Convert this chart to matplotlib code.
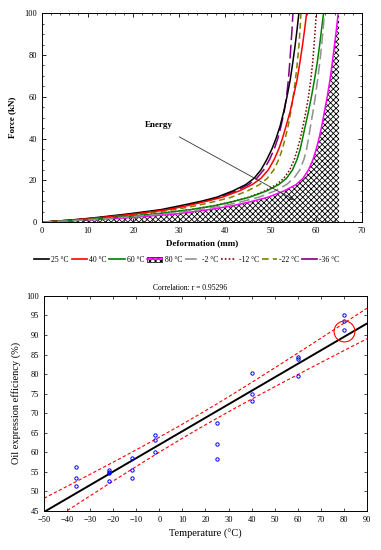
import numpy as np
import matplotlib
matplotlib.use("Agg")
import matplotlib.pyplot as plt
from matplotlib.patches import Patch
from matplotlib.lines import Line2D

plt.rcParams['font.family'] = ['Liberation Serif', 'DejaVu Serif']
plt.rcParams['hatch.linewidth'] = 0.6

# top chart: deformation (mm) read at fixed force levels (kN)
force_levels = [0, 1, 2, 4, 6, 8, 10, 12, 15, 18, 21, 25, 30, 35, 40, 46, 53, 60, 68, 76, 84, 92, 100]
def_25 = [0, 6, 11, 19, 26, 30.5, 34.8, 38.3, 41.8, 44.6, 46.4, 47.9, 49.2, 50.3, 51.2, 52.1,
          52.9, 53.6, 54.3, 54.85, 55.35, 55.8, 56.2]
def_40 = [0, 6.5, 12, 20.5, 27.5, 32, 36, 39.5, 43.2, 46, 47.9, 49.5, 50.8, 51.8, 52.6, 53.4,
          54.3, 55.0, 55.8, 56.4, 56.95, 57.45, 57.9]
def_60 = [0, 8, 14.5, 25, 32.5, 38, 42, 45.5, 49.2, 51.8, 53.5, 54.8, 55.8, 56.5, 57.0, 57.6,
          58.3, 58.95, 59.6, 60.2, 60.7, 61.15, 61.6]
def_80 = [0, 9, 18, 29.5, 36.5, 42, 46, 49.5, 53, 55.6, 57.1, 58.3, 59.3, 60.0, 60.6, 61.2,
          61.8, 62.4, 63.0, 63.5, 63.95, 64.4, 64.8]
def_m2 = [0, 8.5, 16, 27, 34.5, 40, 44, 47.5, 51, 53.5, 55.1, 56.4, 57.3, 57.9, 58.3, 58.75,
          59.3, 59.8, 60.3, 60.75, 61.15, 61.5, 61.8]
def_m12 = [0, 8, 14.5, 25, 32.5, 38, 42, 45.3, 48.8, 51.3, 52.9, 54.2, 55.2, 55.9, 56.5, 57.1,
           57.75, 58.3, 58.8, 59.2, 59.5, 59.78, 60.0]
def_m22 = [0, 7, 13, 22, 29, 34, 38, 41.5, 45, 47.6, 49.3, 50.7, 51.8, 52.6, 53.2, 53.85,
           54.45, 54.95, 55.45, 55.85, 56.2, 56.45, 56.65]
def_m36 = [0, 6.5, 12, 20, 27, 31.5, 35.5, 39, 42.5, 45.2, 47, 48.5, 49.8, 50.8, 51.6, 52.3,
           53.0, 53.5, 53.9, 54.2, 54.45, 54.7, 54.9]
energy_limit = 65

# bottom chart: oil expression efficiency vs temperature
temp = [-36, -36, -36, -22, -22, -22, -22, -12, -12, -12, -2, -2, -2,
        25, 25, 25, 40, 40, 40, 60, 60, 60, 80, 80, 80]
efficiency = [56.2, 53.4, 51.4, 55.6, 55.0, 54.7, 52.7, 58.5, 55.5, 53.4, 64.4, 63.2, 60.2,
              67.5, 62.2, 58.4, 80.2, 75.0, 73.2, 84.3, 83.9, 79.5, 95.1, 93.7, 91.4]
highlight_t = [80]
highlight_eff = [91]

fig = plt.figure(figsize=(3.81, 5.5), dpi=100)

# ---- top chart
ax1 = fig.add_axes([0.110, 0.596, 0.840, 0.380])
curves = [
    (def_m36, '#800080', (0, (9, 3))),
    (def_25, 'black', '-'),
    (def_m22, '#808000', (0, (4, 2.5))),
    (def_40, 'red', '-'),
    (def_m12, '#800000', (0, (1, 1.3))),
    (def_60, 'green', '-'),
    (def_m2, '#909090', (0, (7, 3))),
]
ax1.fill(list(def_80) + [energy_limit, energy_limit], list(force_levels) + [100, 0],
         facecolor='white', edgecolor='black', hatch='xxxxxx', linewidth=0)
ax1.plot(def_80, force_levels, color='magenta', lw=1.1)
for d, c, ls in curves:
    ax1.plot(d, force_levels, color=c, lw=1.1, linestyle=ls)

ax1.annotate('', xy=(55.7, 10), xytext=(29.5, 41.5),
             arrowprops=dict(arrowstyle='-|>', color='#333333', lw=0.6,
                             mutation_scale=6))
ax1.text(25.5, 46.5, 'Energy', fontsize=6.5, ha='center', va='center', fontweight='bold')

ax1.set_xlim(0, 70)
ax1.set_ylim(0, 100)
ax1.set_xticks(range(0, 71, 10))
ax1.set_yticks(range(0, 101, 20))
ax1.set_xticks(range(0, 71, 2), minor=True)
ax1.set_yticks(range(0, 101, 5), minor=True)
ax1.tick_params(which='both', direction='in', top=True, right=True, labelsize=6)
ax1.tick_params(which='major', length=3, width=0.6)
ax1.tick_params(which='minor', length=1.5, width=0.5)
for s in ax1.spines.values():
    s.set_linewidth(0.7)
ax1.set_xlabel('Deformation (mm)', fontsize=6.5, fontweight='bold', labelpad=3)
ax1.set_ylabel('Force (kN)', fontsize=6.5, fontweight='bold', labelpad=6)

handles = [
    Line2D([], [], color='black', lw=1.2),
    Line2D([], [], color='red', lw=1.2),
    Line2D([], [], color='green', lw=1.2),
    (Patch(facecolor='white', edgecolor='black', hatch='xxxxxx', lw=0.5),
     Line2D([], [], color='magenta', lw=1.2)),
    Line2D([], [], color='#909090', lw=1.2, linestyle=(0, (7, 3))),
    Line2D([], [], color='#800000', lw=1.2, linestyle=(0, (1, 1.3))),
    Line2D([], [], color='#808000', lw=1.2, linestyle=(0, (4, 2.5))),
    Line2D([], [], color='#800080', lw=1.2),
]
labels = ['25 °C', '40 °C', '60 °C', '80 °C', '-2 °C', '-12 °C', '-22 °C', '-36 °C']
fig.legend(handles, labels, loc='center', bbox_to_anchor=(0.49, 0.527), ncol=8,
           frameon=False, fontsize=5.5, handlelength=2.0, handletextpad=0.3,
           columnspacing=0.35, borderpad=0)

fig.text(0.50, 0.476, 'Correlation: r = 0.95296', fontsize=5.5, ha='center', va='center')

# ---- bottom chart
ax2 = fig.add_axes([0.1155, 0.071, 0.8475, 0.391])
t = np.array(temp, dtype=float)
e = np.array(efficiency, dtype=float)
slope, intercept = np.polyfit(t, e, 1)
xs = np.linspace(-50, 90, 200)
fit = slope * xs + intercept
n = len(t)
resid = e - (slope * t + intercept)
s_err = np.sqrt(np.sum(resid ** 2) / (n - 2))
sxx = np.sum((t - t.mean()) ** 2)
t_crit = 2.069
ci = t_crit * s_err * np.sqrt(1 / n + (xs - t.mean()) ** 2 / sxx)

ax2.plot(xs, fit, color='black', lw=1.4)
ax2.plot(xs, fit + ci, color='red', lw=0.8, linestyle=(0, (3, 2)))
ax2.plot(xs, fit - ci, color='red', lw=0.8, linestyle=(0, (3, 2)))
ax2.plot(temp, efficiency, 'o', ms=2.4, mfc='none', mec='blue', mew=0.7)
ax2.plot(highlight_t, highlight_eff, 'o', ms=15, mfc='none', mec='red', mew=0.8)

ax2.set_xlim(-50, 90)
ax2.set_ylim(45, 100)
ax2.set_xticks(range(-50, 91, 10))
ax2.set_yticks(range(45, 101, 5))
ax2.tick_params(direction='in', top=True, right=True, labelsize=6, length=2.5, width=0.5)
for s in ax2.spines.values():
    s.set_linewidth(0.7)
ax2.set_xlabel('Temperature (°C)', fontsize=7.5, labelpad=4)
ax2.set_ylabel('Oil expression efficiency (%)', fontsize=7.5, labelpad=4)

fig.savefig('out.png', dpi=100)
